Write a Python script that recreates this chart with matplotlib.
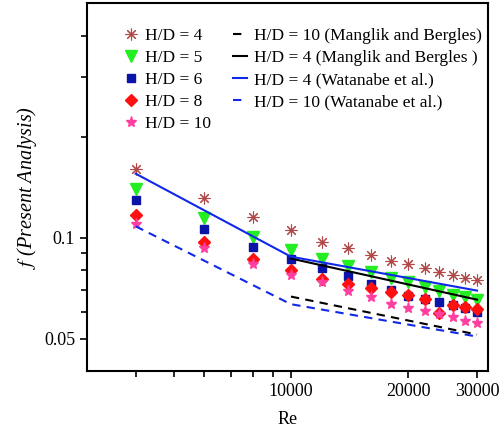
import matplotlib
matplotlib.use("Agg")
import matplotlib.pyplot as plt
from matplotlib.ticker import FixedLocator, NullFormatter, FixedFormatter

plt.rcParams['font.family'] = ['Liberation Serif', 'DejaVu Serif']
plt.rcParams['mathtext.fontset'] = 'stix'

# Reynolds numbers of the present analysis
re = [4000, 6000, 8000, 10000, 12000, 14000, 16000, 18000,
      20000, 22000, 24000, 26000, 28000, 30000]

f_hd4 = [0.160, 0.1315, 0.1155, 0.105, 0.0973, 0.0928, 0.089, 0.0854,
         0.0832, 0.0809, 0.0792, 0.0776, 0.076, 0.0745]
f_hd5 = [0.140, 0.114, 0.1007, 0.092, 0.0866, 0.082, 0.0792, 0.076,
         0.0735, 0.071, 0.0695, 0.0676, 0.0663, 0.0653]
f_hd6 = [0.129, 0.1064, 0.094, 0.0866, 0.0809, 0.077, 0.0725, 0.070,
         0.0671, 0.0657, 0.0641, 0.0628, 0.0615, 0.0598]
f_hd8 = [0.117, 0.0973, 0.0866, 0.0798, 0.0755, 0.0725, 0.0705, 0.0686,
         0.0676, 0.0657, 0.0594, 0.0628, 0.062, 0.0611]
f_hd10 = [0.110, 0.0928, 0.0832, 0.0774, 0.0735, 0.0695, 0.0663, 0.0632,
          0.0615, 0.0603, 0.059, 0.0578, 0.0566, 0.0555]

# correlations
re_mb = [10000, 30000]
f_mb10 = [0.0667, 0.0514]
f_mb4 = [0.0866, 0.0653]

re_wt = [4000, 10000, 30000]
f_wt4 = [0.155, 0.0877, 0.0695]
f_wt10 = [0.108, 0.0633, 0.0507]

fig = plt.figure(figsize=(5.04, 4.30), dpi=100)
ax = fig.add_axes([0.1726, 0.137, 0.7956, 0.856])

ms = 'none'
ax.plot(re, f_hd4, ls=ms, marker=(8, 2, 0), ms=8.5, mew=0.8, color='#b04848', label='H/D = 4')
ax.plot(re, f_hd5, ls=ms, marker='v', ms=8, color='#22ee22', label='H/D = 5')
ax.plot(re, f_hd6, ls=ms, marker='s', ms=5.5, color='#0a14a8', label='H/D = 6')
ax.plot(re, f_hd8, ls=ms, marker='D', ms=6, color='#ff1010', label='H/D = 8')
ax.plot(re, f_hd10, ls=ms, marker='*', ms=8, color='#ff3fa0', label='H/D = 10')

ax.plot(re_mb, f_mb10, color='black', ls=(0, (4, 3)), lw=1.5, label='H/D = 10 (Manglik and Bergles)')
ax.plot(re_mb, f_mb4, color='black', lw=1.5, label='H/D = 4 (Manglik and Bergles )')
ax.plot(re_wt, f_wt4, color='#1028e8', lw=1.5, label='H/D = 4 (Watanabe et al.)')
ax.plot(re_wt, f_wt10, color='#1028e8', ls=(0, (4, 3)), lw=1.5, label='H/D = 10 (Watanabe et al.)')

ax.set_xscale('log')
ax.set_yscale('log')
ax.set_xlim(3000, 32000)
ax.set_ylim(0.04, 0.5)

ax.xaxis.set_major_locator(FixedLocator([10000, 20000, 30000]))
ax.xaxis.set_major_formatter(FixedFormatter(['10000', '20000', '30000']))
ax.xaxis.set_minor_locator(FixedLocator([4000, 5000, 6000, 7000, 8000, 9000]))
ax.xaxis.set_minor_formatter(NullFormatter())

ax.yaxis.set_major_locator(FixedLocator([0.05, 0.1]))
ax.yaxis.set_major_formatter(FixedFormatter(['0.05', '0.1']))
ax.yaxis.set_minor_locator(FixedLocator([0.06, 0.07, 0.08, 0.09, 0.2, 0.3, 0.4]))
ax.yaxis.set_minor_formatter(NullFormatter())

ax.tick_params(which='major', direction='out', length=5, width=1.2, labelsize=13)
ax.tick_params(which='minor', direction='out', length=4, width=1.2)
for s in ax.spines.values():
    s.set_linewidth(1.5)

ax.set_xlabel('Re', fontsize=13, labelpad=8)
ax.set_ylabel('$f$ (Present Analysis)', fontsize=14.5, style='italic', labelpad=4)

ax.legend(ncol=2, loc='upper left', bbox_to_anchor=(0.092, 0.933), frameon=False,
          fontsize=12.5, handlelength=0.8, handletextpad=0.4, labelspacing=0.34,
          columnspacing=1.3, borderaxespad=0, borderpad=0)

fig.savefig('out.png', dpi=100)
